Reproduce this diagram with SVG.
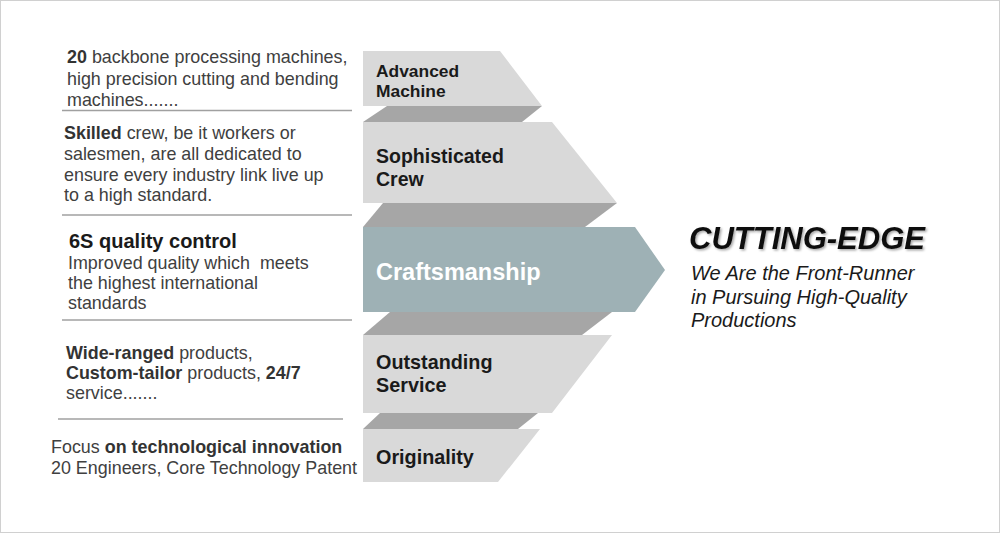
<svg xmlns="http://www.w3.org/2000/svg" width="1000" height="533" viewBox="0 0 1000 533">
<defs>
<style>
.lt{fill:#d9d9d9}
.dk{fill:#a6a6a6}
.tl{fill:#9eb1b5}
.sep{stroke:#a0a0a0;stroke-width:1.5;fill:none}
.desc{font-family:"Liberation Sans",Arial,sans-serif;font-size:17.9px;fill:#404040;white-space:pre}
.desc .b{font-weight:bold;fill:#333}
.lab{font-family:"Liberation Sans",Arial,sans-serif;font-weight:bold;fill:#1a1a1a}
.tag{font-family:"Liberation Sans",Arial,sans-serif;font-style:italic;font-size:20px;fill:#1a1a1a}
</style>
<filter id="sh" x="-10%" y="-30%" width="120%" height="160%">
<feDropShadow dx="1.5" dy="1.5" stdDeviation="1.2" flood-color="#000" flood-opacity="0.35"/>
</filter>
</defs>
<rect x="0.5" y="0.5" width="999" height="532" fill="#fff" stroke="#d0d0d0"/>

<g id="connectors">
<line class="sep" x1="62" y1="110.5" x2="352" y2="110.5"/>
<line class="sep" x1="62" y1="215" x2="352" y2="215"/>
<line class="sep" x1="62" y1="320" x2="352" y2="320"/>
<line class="sep" x1="58" y1="419" x2="343" y2="419"/>
</g>

<g id="advanced-machine">
<polygon class="lt" points="363,51 500,51 542,106 363,106"/>
<polygon class="dk" points="387,106 542,106 522,122 363,122"/>
<text class="lab" font-size="17.4" x="376" y="77">Advanced</text>
<text class="lab" font-size="17.4" x="376" y="97">Machine</text>
<text class="desc" x="67" y="63"><tspan class="b">20</tspan> backbone processing machines,</text>
<text class="desc" x="67" y="85">high precision cutting and bending</text>
<text class="desc" x="67" y="106">machines.......</text>
</g>

<g id="sophisticated-crew">
<polygon class="lt" points="363,122 552,122 617,203 363,203"/>
<polygon class="dk" points="383,203 617,203 585,227 363,227"/>
<text class="lab" font-size="19.5" x="376" y="163">Sophisticated</text>
<text class="lab" font-size="19.5" x="376" y="186">Crew</text>
<text class="desc" x="64" y="139"><tspan class="b">Skilled</tspan> crew, be it workers or</text>
<text class="desc" x="64" y="160">salesmen, are all dedicated to</text>
<text class="desc" x="64" y="181">ensure every industry link live up</text>
<text class="desc" x="64" y="201">to a high standard.</text>
</g>

<g id="craftsmanship">
<polygon class="tl" points="363,227 635,227 665,270 635,312 363,312"/>
<polygon class="dk" points="390,312 612,312 582,335 363,335"/>
<text class="lab" font-size="23.5" x="376" y="280" style="fill:#fff">Craftsmanship</text>
<text class="desc" x="69" y="248"><tspan class="b" style="font-size:20px;fill:#1a1a1a">6S quality control</tspan></text>
<text class="desc" x="68" y="269">Improved quality which  meets</text>
<text class="desc" x="68" y="289">the highest international</text>
<text class="desc" x="68" y="309">standards</text>
</g>

<g id="outstanding-service">
<polygon class="lt" points="363,335 612,335 552,413 363,413"/>
<polygon class="dk" points="380,413 538,413 518,429 363,429"/>
<text class="lab" font-size="19.8" x="376" y="369">Outstanding</text>
<text class="lab" font-size="19.8" x="376" y="392">Service</text>
<text class="desc" x="66" y="359"><tspan class="b">Wide-ranged</tspan> products,</text>
<text class="desc" x="66" y="379"><tspan class="b">Custom-tailor</tspan> products, <tspan class="b">24/7</tspan></text>
<text class="desc" x="66" y="399">service.......</text>
</g>

<g id="originality">
<polygon class="lt" points="363,429 540,429 498,482 363,482"/>
<text class="lab" font-size="19.8" x="376" y="464">Originality</text>
<text class="desc" x="51" y="453">Focus <tspan class="b">on technological innovation</tspan></text>
<text class="desc" x="51" y="474">20 Engineers, Core Technology Patent</text>
</g>

<g id="cutting-edge">
<text x="689" y="249" font-family="Liberation Sans, Arial, sans-serif" font-weight="bold" font-style="italic" font-size="31" fill="#111" filter="url(#sh)">CUTTING-EDGE</text>
<text class="tag" x="691" y="280">We Are the Front-Runner</text>
<text class="tag" x="691" y="304">in Pursuing High-Quality</text>
<text class="tag" x="691" y="327">Productions</text>
</g>
</svg>
